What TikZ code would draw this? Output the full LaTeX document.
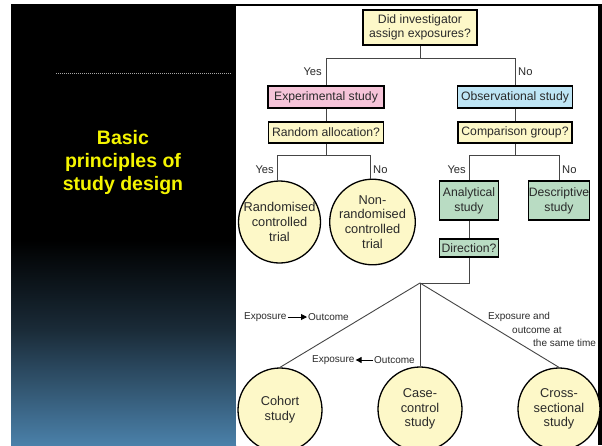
\documentclass[tikz,border=0pt]{standalone}
\usepackage{fontspec}
\setmainfont{Liberation Sans}
\usetikzlibrary{arrows.meta}
\definecolor{boxyellow}{HTML}{FDF8C8}
\definecolor{boxpink}{HTML}{F6C4D9}
\definecolor{boxblue}{HTML}{BEE5F5}
\definecolor{boxgreen}{HTML}{B9DCC3}
\definecolor{bgblue}{HTML}{4A80A9}
\definecolor{bgmid}{HTML}{1A2B38}
\definecolor{titleyellow}{HTML}{F5F500}
\definecolor{txt}{HTML}{2A2A2A}
\definecolor{conn}{HTML}{454545}
\tikzset{
  flowtext/.style={text=txt,font=\fontsize{12.2}{14}\selectfont,align=center,inner sep=0pt},
  rectbox/.style={flowtext,draw=black,line width=1.3pt,rectangle},
  ybox/.style={rectbox,fill=boxyellow},
  pbox/.style={rectbox,fill=boxpink},
  bbox/.style={rectbox,fill=boxblue},
  gbox/.style={rectbox,fill=boxgreen,font=\fontsize{12.2}{15}\selectfont},
  endcircle/.style={flowtext,draw=black,line width=1.3pt,circle,fill=boxyellow,font=\fontsize{12.8}{14.8}\selectfont},
  yn/.style={text=txt,font=\fontsize{11.2}{13}\selectfont,inner sep=0pt},
  small/.style={text=txt,font=\fontsize{10}{12.5}\selectfont,inner sep=1pt},
  link/.style={draw=conn,line width=0.9pt},
  dirarrow/.style={draw=black,line width=0.9pt,-{Triangle[length=6pt,width=6pt]}}
}
\begin{document}
\begin{tikzpicture}[x=1pt,y=-1pt]
\useasboundingbox (0,0) rectangle (602,445);
% background frame
\fill[white] (0,0) rectangle (602,445);
\fill[black] (11,4) rectangle (602,445);
\shade[top color=black,bottom color=bgmid] (11,240) rectangle (236,330);
\shade[top color=bgmid,bottom color=bgblue] (11,329.5) rectangle (236,445);
\fill[white] (236,6) rectangle (598,445);
\draw[gray!70,line width=0.8pt,dash pattern=on 1pt off 1pt] (56,73) -- (232,73);
% title
\node[text=titleyellow,font=\bfseries\fontsize{19.5}{23}\selectfont,align=center,inner sep=0pt] (title) at (123,162) {Basic\\principles of\\study design};

% boxes
\node[ybox,minimum width=114pt,minimum height=35pt] (q1) at (420,27.5) {Did investigator\\assign exposures?};
\node[pbox,minimum width=116pt,minimum height=22pt] (exp) at (326,97) {Experimental study};
\node[bbox,minimum width=115pt,minimum height=22pt] (obs) at (515,97) {Observational study};
\node[ybox,minimum width=115pt,minimum height=21pt] (rand) at (326,132.5) {Random allocation?};
\node[ybox,minimum width=114pt,minimum height=21pt] (comp) at (515,132.5) {Comparison group?};
\node[endcircle,minimum size=82pt] (rct) at (279.5,222) {Randomised\\controlled\\trial};
\node[endcircle,minimum size=82pt] (nrct) at (372.5,222) {Non-\\randomised\\controlled\\trial};
\node[gbox,minimum width=59pt,minimum height=39pt] (ana) at (469,200.5) {Analytical\\study};
\node[gbox,minimum width=61pt,minimum height=39pt] (desc) at (559,200.5) {Descriptive\\study};
\node[gbox,minimum width=59pt,minimum height=18pt] (dir) at (469,248) {Direction?};
\node[endcircle,minimum size=84pt] (cohort) at (280,410) {Cohort\\study};
\node[endcircle,minimum size=84pt] (case) at (420,409) {Case-\\control\\study};
\node[endcircle,minimum size=82pt] (cross) at (559,409) {Cross-\\sectional\\study};

% branch coordinates
\coordinate (b1) at (420,58);
\coordinate (b1l) at (326,58);
\coordinate (b1r) at (515,58);
\coordinate (b2) at (326,155);
\coordinate (b2l) at (277,155);
\coordinate (b2r) at (370,155);
\coordinate (b3) at (515,155);
\coordinate (b3l) at (469,155);
\coordinate (b3r) at (559,155);
\coordinate (b4) at (469,283);
\coordinate (hub) at (420,283);

% connectors
\draw[link] (q1.south) -- (b1);
\draw[link] (b1l) -- (b1r);
\draw[link] (b1l) -- (exp.north);
\draw[link] (b1r) -- (obs.north);
\draw[link] (exp.south) -- (rand.north);
\draw[link] (obs.south) -- (comp.north);
\draw[link] (rand.south) -- (b2);
\draw[link] (b2l) -- (b2r);
\draw[link] (b2l) -- (b2l |- rct.north);
\draw[link] (b2r) -- (b2r |- nrct.north);
\draw[link] (comp.south) -- (b3);
\draw[link] (b3l) -- (b3r);
\draw[link] (b3l) -- (ana.north);
\draw[link] (b3r) -- (desc.north);
\draw[link] (ana.south) -- (dir.north);
\draw[link] (dir.south) -- (b4) -- (hub);
\draw[link] (hub) -- (cohort.north);
\draw[link] (hub) -- (case.north);
\draw[link] (hub) -- (cross.north);

% yes/no labels
\node[yn,anchor=east] (y1) at (322,72) {Yes};
\node[yn,anchor=west] (n1) at (518,72) {No};
\node[yn,anchor=east] (y2) at (274,170) {Yes};
\node[yn,anchor=west] (n2) at (373,170) {No};
\node[yn,anchor=east] (y3) at (466,170) {Yes};
\node[yn,anchor=west] (n3) at (562,170) {No};

% direction labels
\node[small,anchor=west] (e1) at (243,317) {Exposure};
\node[small,anchor=west] (o1) at (307,317) {Outcome};
\draw[dirarrow] (e1.east) -- (o1.west);
\node[small,anchor=west] (e2) at (311,360) {Exposure};
\node[small,anchor=west] (o2) at (373,360) {Outcome};
\draw[dirarrow] (o2.west) -- (e2.east);
\node[small,anchor=west] (s1) at (487,317) {Exposure and};
\node[small,anchor=west] (s2) at (511,330) {outcome at};
\node[small,anchor=west] (s3) at (532,343) {the same time};
\end{tikzpicture}
\end{document}
